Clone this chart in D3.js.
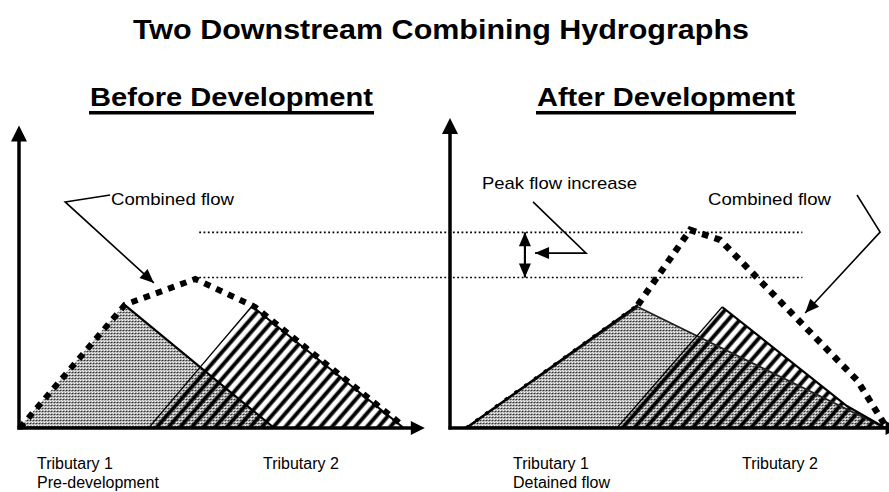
<!DOCTYPE html>
<html><head><meta charset="utf-8">
<script src="https://cdn.jsdelivr.net/npm/d3@7"></script>
<style>body{margin:0;background:#fff}svg{display:block}text{font-family:"Liberation Sans",Arial,sans-serif;fill:#000}</style>
</head><body><svg id="c" width="889" height="492"></svg>
<script>
// ---- data (time units, flow units) ----
const beforeTrib1 = [[0,0],[2.6,4.1],[6.3,0]];
const beforeTrib2 = [[3.2,0],[5.75,4.05],[9.5,0]];
const beforeCombined = [[0.02,0],[2.62,4.1],[4.35,4.95],[5.83,4.02],[9.46,0.1]];
const afterTrib1 = [[0.4,0],[4.64,4.02],[10.75,0]];
const afterTrib2 = [[4.12,0],[6.72,4.02],[9.8,0.73],[10.75,0]];
const afterCombined = [[0.4,0],[4.64,4.09],[5.93,6.58],[6.67,6.25],[10.05,1.59],[10.74,0.1]];
const peakLevels = [5.0, 6.5];
const panelTitles = ["Before Development","After Development"];
const bottomLabels = [["Tributary 1","Pre-development"],["Tributary 2"],["Tributary 1","Detained flow"],["Tributary 2"]];

const svg = d3.select("#c");
const xL = d3.scaleLinear().domain([0,10]).range([19,424]);
const xR = d3.scaleLinear().domain([0,10.8]).range([450,887.4]);
const y = d3.scaleLinear().domain([0,10]).range([428,127]);

const defs = svg.append("defs");
// stipple
const st = defs.append("pattern").attr("id","stip").attr("width",3).attr("height",3).attr("patternUnits","userSpaceOnUse");
st.append("rect").attr("width",3).attr("height",3).attr("fill","#b2b2b2");
st.append("rect").attr("width",1).attr("height",1).attr("fill","#303030");
st.append("rect").attr("x",1).attr("y",0).attr("width",2).attr("height",1).attr("fill","#858585");
st.append("rect").attr("x",2).attr("y",2).attr("width",1).attr("height",1).attr("fill","#ffffff");
st.append("rect").attr("x",1).attr("y",1).attr("width",1).attr("height",1).attr("fill","#e0e0e0");
// stripes
const grad = defs.append("linearGradient").attr("id","sg").attr("x1",0).attr("x2",1).attr("y1",0).attr("y2",0);
[[0,0],[0.25,1],[0.75,1],[1,0]].forEach(([o,a])=>grad.append("stop").attr("offset",o).attr("stop-color","#000").attr("stop-opacity",a));
const sp = defs.append("pattern").attr("id","stripe").attr("width",8.8).attr("height",10).attr("patternUnits","userSpaceOnUse").attr("patternTransform","rotate(41)");
sp.append("rect").attr("x",0).attr("width",5.2).attr("height",10).attr("fill","url(#sg)");

const line = (xs)=>d3.line().x(d=>xs(d[0])).y(d=>y(d[1]));

// title
svg.append("text").attr("x",133).attr("y",39).attr("font-size",27).attr("font-weight","bold")
  .attr("textLength",616).attr("lengthAdjust","spacingAndGlyphs").text("Two Downstream Combining Hydrographs");

// panel titles
const pt = [{x:90,w:283,t:panelTitles[0]},{x:537,w:258,t:panelTitles[1]}];
pt.forEach(p=>{
  svg.append("text").attr("x",p.x).attr("y",106).attr("font-size",26).attr("font-weight","bold")
    .attr("textLength",p.w).attr("lengthAdjust","spacingAndGlyphs").text(p.t);
  svg.append("rect").attr("x",p.x-1).attr("y",111).attr("width",p.w+2).attr("height",3.5).attr("fill","#000");
});

// fills
function drawPanel(xs, t1, t2){
  svg.append("path").attr("d",line(xs)(t1)+"Z").attr("fill","url(#stip)");
  svg.append("path").attr("d",line(xs)(t2)+"Z").attr("fill","url(#stripe)");
}
drawPanel(xL, beforeTrib1, beforeTrib2);
drawPanel(xR, afterTrib1, afterTrib2);

// outlines
svg.append("path").attr("d",line(xL)(beforeTrib1.slice(1))).attr("fill","none").attr("stroke","#000").attr("stroke-width",2.2);
svg.append("path").attr("d",line(xL)(beforeTrib2.slice(0,2))).attr("fill","none").attr("stroke","#000").attr("stroke-width",1.2);
svg.append("path").attr("d",line(xL)(beforeTrib2.slice(1))).attr("fill","none").attr("stroke","#000").attr("stroke-width",2);
svg.append("path").attr("d",line(xR)(afterTrib1)).attr("fill","none").attr("stroke","#222").attr("stroke-width",1.8);
svg.append("path").attr("d",line(xR)(afterTrib2.slice(0,2))).attr("fill","none").attr("stroke","#000").attr("stroke-width",1.2);
svg.append("path").attr("d",line(xR)(afterTrib2.slice(1))).attr("fill","none").attr("stroke","#000").attr("stroke-width",2.2);

// dotted peak levels
peakLevels.forEach(v=>{
  svg.append("line").attr("x1",xL(4.45)).attr("x2",xR(8.7)).attr("y1",y(v)).attr("y2",y(v))
    .attr("stroke","#000").attr("stroke-width",1.7).attr("stroke-dasharray","1.8,2.5");
});

// combined flows
svg.append("path").attr("d",line(xL)(beforeCombined)).attr("fill","none").attr("stroke","#000").attr("stroke-width",6).attr("stroke-dasharray","6.5,6.5");
svg.append("path").attr("d",line(xR)(afterCombined.slice(0,2))).attr("fill","none").attr("stroke","#000").attr("stroke-width",2.2);
svg.append("path").attr("d",line(xR)(afterCombined.slice(0,2))).attr("fill","none").attr("stroke","#000").attr("stroke-width",3.5).attr("stroke-dasharray","3,9");
svg.append("path").attr("d",line(xR)(afterCombined.slice(1))).attr("fill","none").attr("stroke","#000").attr("stroke-width",6.5).attr("stroke-dasharray","6.5,6.5");

// axes
function axes(xs, xMax, yMax){
  const x0=xs(0), y0=y(0);
  svg.append("line").attr("x1",x0).attr("x2",x0).attr("y1",y0+1.5).attr("y2",y(yMax)+14).attr("stroke","#000").attr("stroke-width",3.5);
  svg.append("path").attr("d",`M${x0},${y(yMax)} L${x0-8},${y(yMax)+16} L${x0+8},${y(yMax)+16}Z`).attr("fill","#000");
  svg.append("line").attr("x1",x0-1.5).attr("x2",xs(xMax)-12).attr("y1",y0).attr("y2",y0).attr("stroke","#000").attr("stroke-width",3.5);
  svg.append("path").attr("d",`M${xs(xMax)},${y0} L${xs(xMax)-14},${y0-7} L${xs(xMax)-14},${y0+7}Z`).attr("fill","#000");
}
axes(xL, 10.02, 10.05);
axes(xR, 11.1, 10.3);

// annotations
function arrowLine(xs, pts, sw){
  svg.append("path").attr("d",line(xs)(pts)).attr("fill","none").attr("stroke","#000").attr("stroke-width",sw||1.6);
  const a=pts[pts.length-2], b=pts[pts.length-1];
  const ax=xs(a[0]),ay=y(a[1]),bx=xs(b[0]),by=y(b[1]);
  const ang=Math.atan2(by-ay,bx-ax), L=14, W=6;
  const cx=bx-L*Math.cos(ang), cy=by-L*Math.sin(ang);
  svg.append("path").attr("d",`M${bx},${by} L${cx+W*Math.sin(ang)},${cy-W*Math.cos(ang)} L${cx-W*Math.sin(ang)},${cy+W*Math.cos(ang)}Z`).attr("fill","#000");
}
arrowLine(xL, [[2.25,7.74],[1.14,7.51],[3.33,4.82]]);
arrowLine(xR, [[2.05,7.51],[3.36,5.81],[2.10,5.81]]);
arrowLine(xR, [[1.85,5.75],[1.85,6.5]], 2.2);
arrowLine(xR, [[1.85,5.75],[1.85,5.0]], 2.2);
arrowLine(xR, [[10.05,7.74],[10.62,6.51],[8.77,3.82]]);

const lab = (x,yy,t,w)=>svg.append("text").attr("x",x).attr("y",yy).attr("font-size",17).attr("textLength",w).attr("lengthAdjust","spacingAndGlyphs").text(t);
lab(111,205,"Combined flow",123);
lab(482,189,"Peak flow increase",155);
lab(708,205,"Combined flow",123);

// bottom labels
const bx=[37,263,513,742];
bottomLabels.forEach((ls,i)=>ls.forEach((t,j)=>{
  svg.append("text").attr("x",bx[i]).attr("y",469+j*19).attr("font-size",16).text(t);
}));
</script></body></html>
